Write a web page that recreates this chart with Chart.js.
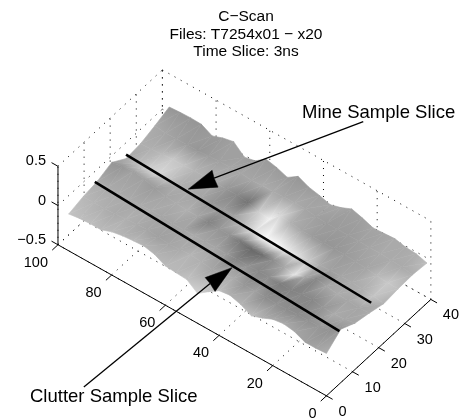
<!DOCTYPE html>
<html>
<head>
<meta charset="utf-8">
<title>C-Scan</title>
<script src="https://cdn.jsdelivr.net/npm/chart.js@4/dist/chart.umd.min.js"></script>
<style>
  html, body { margin: 0; background: #fff; }
  canvas { display: block; }
</style>
</head>
<body>
<canvas id="cscan" width="462" height="419"></canvas>
<script>
// scan position along the long axis, one height/shade column each
var scanPos = [0,4,8,12,16,20,24,28,32,36,40,44,48,52,56,60,64,68,72,76,80,84,88,92,96];
var crossPos = [0,5.5,11,16.5,22,27.5,33,38.5];

// surface height, one row per crossPos
var heights = [
  [.04,.03,.03,.09,.11,.09,.03,-.02,.05,.09,.07,-.02,-.12,-.02,-.01,0,.07,.1,.09,.076,.05,0,0,-.01,-.03],
  [.18,.1,.06,.06,.06,.05,.04,.05,.05,.05,.06,.04,.02,.04,.05,.04,.03,.05,.06,.05,.04,.03,.02,.02,.02],
  [.09,.06,.05,.06,.08,.07,.05,.06,.06,.06,.05,.06,.05,.05,.05,.05,.05,.05,.06,.06,.05,.05,.05,.05,.05],
  [.05,.04,.05,.06,.08,.1,.05,0,.02,.03,.02,.02,.04,.04,.04,.05,.05,.05,.06,.07,.1,.14,.16,.14,.12],
  [0,.02,.03,.04,.04,.04,.03,.01,0,-.02,-.03,-.02,0,.02,.04,.05,.05,.05,.05,.05,.04,.03,.02,.01,0],
  [.02,.02,.03,.05,.06,.07,.07,.07,.07,.07,.09,.1,-.02,0,.04,.06,.06,.06,.06,.06,.05,.05,.04,.03,.02],
  [.03,.05,.06,.07,.07,.07,.07,.07,.07,.08,.1,.1,.1,.09,.09,.08,.09,.09,.09,.08,.07,.07,.07,.06,.08],
  [.01,.05,.06,.09,.08,.07,.12,.16,.1,.06,.1,.13,.19,.1,.15,.18,.08,.05,.17,.14,.09,.16,.165,.16,.15]
];

// gray level of the surface at the same nodes
var shades = [
  [175,165,160,165,170,170,175,190,180,175,190,195,210,195,185,185,180,180,185,180,185,185,190,190,195],
  [150,145,150,145,140,140,145,140,160,150,170,175,165,175,180,170,165,160,165,170,175,170,175,180,185],
  [165,165,170,150,135,135,130,125,140,135,145,130,155,165,165,170,165,165,165,170,170,170,170,170,170],
  [170,165,165,170,165,135,165,225,165,140,110,105,120,145,150,130,165,175,170,165,155,160,160,150,150],
  [175,195,175,170,165,160,170,200,220,235,250,250,225,185,160,155,150,165,170,175,195,215,205,185,170],
  [190,200,185,165,160,155,150,150,155,165,175,215,240,205,115,135,150,170,175,180,195,200,185,175,175],
  [175,170,170,170,165,160,155,155,155,160,165,170,165,170,170,165,165,165,160,155,150,155,160,165,170],
  [190,175,170,170,165,165,160,160,165,165,160,155,150,155,155,155,155,160,160,155,155,150,150,150,150]
];

var scanTicks = [0,20,40,60,80,100];
var crossTicks = [0,10,20,30,40];
var heightTicks = [-0.5,0,0.5];
var heightLabels = ["\u22120.5","0","0.5"];

var titleLines = ["C\u2212Scan","Files: T7254x01 \u2212 x20","Time Slice: 3ns"];

// slice lines as [scan, cross, height]
var mineSlice = [[97,23,0],[5.7,23,-0.13]];
var clutterSlice = [[96,10,0.07],[4.9,10,-0.078]];

// callouts, in page position
var mineCallout = {text: "Mine Sample Slice", stem: [[364,121],[214,178]], head: [[188,189],[212,170],[214,178],[218,187]]};
var clutterCallout = {text: "Clutter Sample Slice", stem: [[83,388],[210,284]], head: [[232,268],[205,278],[210,284],[215,292]]};

function project(a, b, z) {
  return {x: 327 - 2.7 * a + 2.625 * b, y: 397 - 1.52 * a - 2.425 * b - 79 * (z + 0.5)};
}

function grayOf(v) {
  v = Math.round(v);
  return "rgb(" + v + "," + v + "," + v + ")";
}

// linear gradient that reproduces the three corner grays of a triangle
function triangleFill(chart, pts, grays) {
  var xs = chart.scales.x, ys = chart.scales.y;
  var p = pts.map(function (q) { return [xs.getPixelForValue(q.x), ys.getPixelForValue(q.y)]; });
  var det = (p[1][0]-p[0][0])*(p[2][1]-p[0][1]) - (p[2][0]-p[0][0])*(p[1][1]-p[0][1]);
  var avg = (grays[0]+grays[1]+grays[2]) / 3;
  if (Math.abs(det) < 0.01) return grayOf(avg);
  var gA = ((grays[1]-grays[0])*(p[2][1]-p[0][1]) - (grays[2]-grays[0])*(p[1][1]-p[0][1])) / det;
  var gB = ((grays[2]-grays[0])*(p[1][0]-p[0][0]) - (grays[1]-grays[0])*(p[2][0]-p[0][0])) / det;
  var len = gA*gA + gB*gB;
  if (len < 1e-6) return grayOf(avg);
  var lo = 0, hi = 0;
  grays.forEach(function (g, i) { if (g < grays[lo]) lo = i; if (g > grays[hi]) hi = i; });
  var range = grays[hi] - grays[lo];
  var g = chart.ctx.createLinearGradient(p[lo][0], p[lo][1], p[lo][0] + gA*range/len, p[lo][1] + gB*range/len);
  g.addColorStop(0, grayOf(grays[lo]));
  g.addColorStop(1, grayOf(grays[hi]));
  return g;
}

var triangles = [];

function triangleDataset(nodes) {
  var pts = nodes.map(function (n) { return project(scanPos[n[0]], crossPos[n[1]], heights[n[1]][n[0]]); });
  var grays = nodes.map(function (n) { return shades[n[1]][n[0]]; });
  var set = {data: pts.concat([pts[0]]), showLine: true, fill: "shape", pointRadius: 0, tension: 0,
             backgroundColor: "#aaa", borderColor: "#aaa", borderWidth: 0.6, clip: false};
  triangles.push({set: set, pts: pts, grays: grays});
  return set;
}

function lineDataset(pts, width, dash) {
  return {data: pts, showLine: true, fill: false, pointRadius: 0, tension: 0, borderColor: "#000",
          borderWidth: width, borderDash: dash || [], clip: false};
}

function path3d(list) {
  return list.map(function (p) { return project(p[0], p[1], p[2]); });
}

function pagePath(list) {
  return list.map(function (p) { return {x: p[0], y: p[1]}; });
}

// pushed back to front, reversed at the end since Chart.js paints the first dataset last
var sets = [];
var dots = [1, 6];

scanTicks.forEach(function (a) {
  sets.push(lineDataset(path3d([[a,0,-0.5],[a,40,-0.5]]), 1, dots));
  sets.push(lineDataset(path3d([[a,40,-0.5],[a,40,0.5]]), 1, dots));
});
crossTicks.forEach(function (b) {
  sets.push(lineDataset(path3d([[0,b,-0.5],[100,b,-0.5]]), 1, dots));
  sets.push(lineDataset(path3d([[100,b,-0.5],[100,b,0.5]]), 1, dots));
});
heightTicks.forEach(function (z) {
  sets.push(lineDataset(path3d([[100,0,z],[100,40,z]]), 1, dots));
  sets.push(lineDataset(path3d([[100,40,z],[0,40,z]]), 1, dots));
});

for (var i = scanPos.length - 2; i >= 0; i--) {
  for (var j = crossPos.length - 2; j >= 0; j--) {
    sets.push(triangleDataset([[i+1,j+1],[i+1,j],[i,j+1]]));
    sets.push(triangleDataset([[i,j],[i+1,j],[i,j+1]]));
  }
}

// box axes and ticks
sets.push(lineDataset(path3d([[0,0,-0.5],[100,0,-0.5]]), 1));
sets.push(lineDataset(path3d([[0,0,-0.5],[0,40,-0.5]]), 1));
sets.push(lineDataset(path3d([[100,0,-0.5],[100,0,0.5]]), 1));
scanTicks.forEach(function (a) {
  sets.push(lineDataset(path3d([[a,0,-0.5],[a,-2.2,-0.5]]), 1));
});
crossTicks.forEach(function (b) {
  sets.push(lineDataset(path3d([[0,b,-0.5],[-2.3,b,-0.5]]), 1));
});
heightTicks.forEach(function (z) {
  sets.push(lineDataset(path3d([[100,0,z],[102.4,0,z]]), 1));
});

sets.push(lineDataset(path3d(mineSlice), 2.6));
sets.push(lineDataset(path3d(clutterSlice), 2.6));

[mineCallout, clutterCallout].forEach(function (c) {
  sets.push(lineDataset(pagePath(c.stem), 1.3));
  sets.push({data: pagePath(c.head.concat([c.head[0]])), showLine: true, fill: "shape", pointRadius: 0, tension: 0,
             backgroundColor: "#000", borderColor: "#000", borderWidth: 0.5, clip: false});
});

sets.reverse();

function put(ctx, text, x, y, size, align) {
  ctx.font = size + 'px "Liberation Sans", Arial, sans-serif';
  ctx.textAlign = align;
  ctx.textBaseline = "middle";
  ctx.fillText(text, x, y);
}

var textPlugin = {
  id: "textPlugin",
  afterDatasetsDraw: function (chart) {
    var ctx = chart.ctx, xs = chart.scales.x, ys = chart.scales.y;
    var px = function (q) { return {x: xs.getPixelForValue(q.x), y: ys.getPixelForValue(q.y)}; };
    ctx.save();
    ctx.fillStyle = "#000";
    [17, 35, 52].forEach(function (y, n) { put(ctx, titleLines[n], 246, y, 15.5, "center"); });
    scanTicks.forEach(function (a) {
      var p = px(project(a, 0, -0.5));
      put(ctx, String(a), p.x - 10, p.y + 18, 14.5, "right");
    });
    crossTicks.forEach(function (b) {
      var p = px(project(0, b, -0.5));
      put(ctx, String(b), p.x + 12, p.y + 16, 14.5, "left");
    });
    heightTicks.forEach(function (z, n) {
      var p = px(project(100, 0, z));
      put(ctx, heightLabels[n], p.x - 12, p.y - 5, 14.5, "right");
    });
    put(ctx, mineCallout.text, 302, 113, 18.5, "left");
    put(ctx, clutterCallout.text, 30, 397, 18.5, "left");
    ctx.restore();
  }
};

var chart = new Chart(document.getElementById("cscan").getContext("2d"), {
  type: "scatter",
  data: {datasets: sets},
  options: {
    responsive: false,
    animation: false,
    events: [],
    layout: {padding: 0},
    plugins: {legend: {display: false}, tooltip: {enabled: false}},
    scales: {
      x: {type: "linear", display: false, min: 0, max: 462},
      y: {type: "linear", display: false, min: 0, max: 419, reverse: true}
    }
  },
  plugins: [textPlugin]
});

// the gradients need the laid out scales
triangles.forEach(function (t) {
  var paint = triangleFill(chart, t.pts, t.grays);
  t.set.backgroundColor = paint;
  t.set.borderColor = paint;
});
chart.update();
</script>
</body>
</html>
